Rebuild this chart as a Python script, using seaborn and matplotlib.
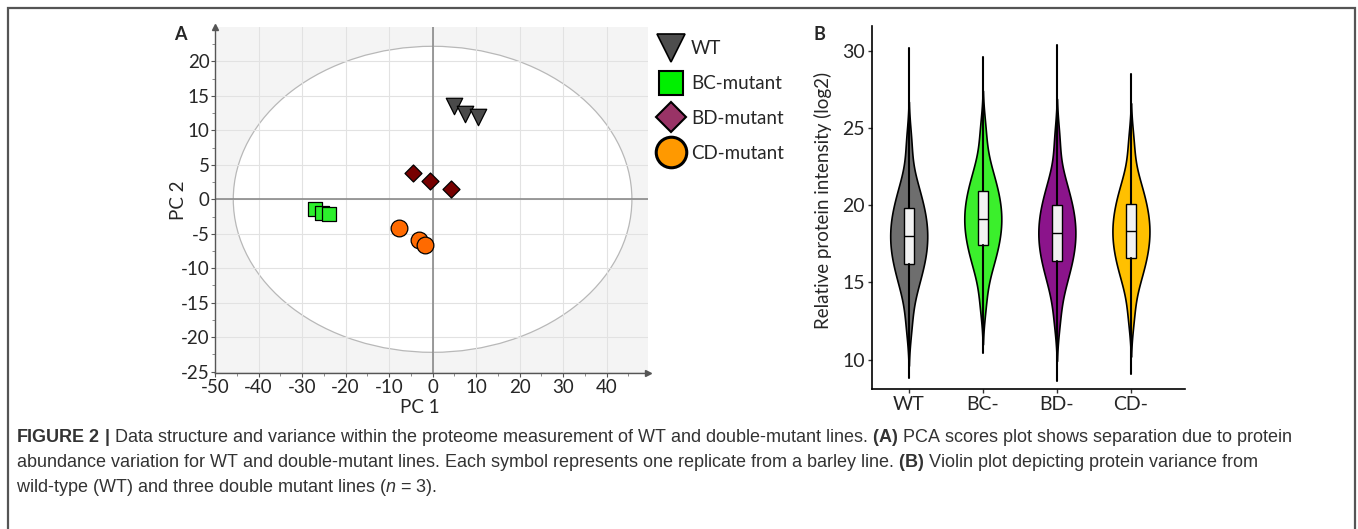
"""
Figure 2 re-draw: PCA scores (A) and protein intensity violins (B)
"""

import numpy as np
import pandas as pd
import matplotlib
matplotlib.use("Agg")
import matplotlib.pyplot as plt
import seaborn as sns
from matplotlib.patches import Ellipse, Rectangle
from matplotlib.lines import Line2D

# =============================================================================
# DATA
# =============================================================================
LINES = ["WT", "BC-mutant", "BD-mutant", "CD-mutant"]

# PCA scores, three replicates per line
pc1_wt = [5.0, 7.5, 10.5]
pc2_wt = [13.5, 12.4, 11.9]
pc1_bc = [-27.1, -25.5, -23.9]
pc2_bc = [-1.4, -2.0, -2.2]
pc1_bd = [-4.6, -0.7, 4.2]
pc2_bd = [3.8, 2.6, 1.5]
pc1_cd = [-7.8, -3.2, -1.7]
pc2_cd = [-4.2, -5.9, -6.6]

# violin panel: estimated quantiles of log2 protein intensity (5% steps)
VIOLIN_LABELS = ["WT", "BC-", "BD-", "CD-"]
q_wt = [12.3, 14.2, 14.9, 15.5, 16.0, 16.4, 16.8, 17.1, 17.5, 17.8,
        18.2, 18.5, 18.9, 19.2, 19.6, 20.0, 20.5, 21.1, 21.8, 24.0]
q_bc = [13.6, 15.4, 16.1, 16.7, 17.1, 17.5, 17.9, 18.3, 18.6, 18.9,
        19.3, 19.6, 19.9, 20.3, 20.7, 21.1, 21.5, 22.1, 22.9, 24.8]
q_bd = [12.6, 14.4, 15.1, 15.7, 16.2, 16.6, 17.0, 17.3, 17.7, 18.0,
        18.4, 18.7, 19.1, 19.4, 19.8, 20.2, 20.7, 21.3, 22.0, 24.2]
q_cd = [12.8, 14.6, 15.3, 15.9, 16.3, 16.7, 17.1, 17.5, 17.8, 18.1,
        18.5, 18.8, 19.1, 19.5, 19.9, 20.3, 20.7, 21.3, 22.0, 24.0]

# box summary
box_min = [8.8, 10.4, 8.6, 9.1]
box_q1 = [16.2, 17.4, 16.4, 16.6]
box_med = [18.0, 19.1, 18.2, 18.3]
box_q3 = [19.8, 20.9, 20.0, 20.1]
box_max = [30.2, 29.6, 30.4, 28.5]

# =============================================================================
# STYLE
# =============================================================================
sns.set_style("white")
plt.rcParams["font.family"] = ["Lato", "DejaVu Sans"]
plt.rcParams["axes.unicode_minus"] = False
plt.rcParams["mathtext.fontset"] = "custom"
plt.rcParams["mathtext.rm"] = "Liberation Sans"
plt.rcParams["mathtext.bf"] = "Liberation Sans:bold"
plt.rcParams["mathtext.it"] = "Liberation Sans:italic"

W, H = 1358, 529
fig = plt.figure(figsize=(W / 100, H / 100), dpi=100)


def fx(px):
    return px / W


def fy(py):
    return 1 - py / H


# =============================================================================
# PANEL A: PCA
# =============================================================================
axA = fig.add_axes([fx(215), fy(373), fx(648) - fx(215), fy(27) - fy(373)])
axA.set_facecolor("#f4f4f4")
axA.add_patch(Ellipse((0, 0), 91.6, 44.4, facecolor="white",
                      edgecolor="#b8b8b8", lw=0.9, zorder=0.2))
axA.set_axisbelow(True)
axA.grid(True, color="#e2e2e2", lw=0.8)
axA.axvline(0, color="#8a8a8a", lw=1.2, zorder=1)
axA.axhline(0, color="#8a8a8a", lw=1.2, zorder=1)

pca = pd.DataFrame({
    "PC1": pc1_wt + pc1_bc + pc1_bd + pc1_cd,
    "PC2": pc2_wt + pc2_bc + pc2_bd + pc2_cd,
    "line": [l for l in LINES for _ in range(3)],
})
plot_colors = {"WT": "#4a4a4a", "BC-mutant": "#2cf02c",
               "BD-mutant": "#760000", "CD-mutant": "#ff6a00"}
plot_markers = {"WT": "v", "BC-mutant": "s", "BD-mutant": "D", "CD-mutant": "o"}
plot_sizes = {"WT": 140, "BC-mutant": 115, "BD-mutant": 75, "CD-mutant": 145}
for line in LINES:
    sub = pca[pca["line"] == line]
    sns.scatterplot(data=sub, x="PC1", y="PC2", marker=plot_markers[line],
                    color=plot_colors[line], s=plot_sizes[line],
                    edgecolor="black", linewidth=0.9, ax=axA, zorder=3,
                    legend=False)

axA.set_xlim(-50, 49.5)
axA.set_ylim(-25.2, 25)
axA.set_xticks(np.arange(-50, 41, 10))
axA.set_yticks(np.arange(-25, 21, 5))
axA.set_xticks(np.arange(-45, 49, 5), minor=True)
axA.set_yticks(np.arange(-22.5, 25, 2.5), minor=True)
axA.tick_params(axis="both", which="major", direction="out", length=3,
                color="#555555", labelsize=13.5, pad=1, bottom=True, left=True)
axA.tick_params(axis="both", which="minor", direction="out", length=2,
                color="#777777", bottom=True, left=True)
axA.grid(False, which="minor")
for side in ["top", "right"]:
    axA.spines[side].set_visible(False)
for side in ["left", "bottom"]:
    axA.spines[side].set_color("#555555")
    axA.spines[side].set_linewidth(1.0)
axA.plot([0], [1.0], marker="^", color="#555555", ms=5,
         transform=axA.transAxes, clip_on=False)
axA.plot([1.0], [0], marker=">", color="#555555", ms=5,
         transform=axA.transAxes, clip_on=False)
axA.set_xlabel("PC 1", fontsize=13.5)
axA.set_ylabel("PC 2", fontsize=13.5)
axA.xaxis.set_label_coords(0.473, -0.075)
axA.yaxis.set_label_coords(-0.065, 0.5)

# legend
leg_colors = ["#4d4d4d", "#00f000", "#993366", "#ff9900"]
leg_markers = ["v", "s", "D", "o"]
leg_sizes = [20, 17, 15, 22]
leg_edge = [1.2, 1.5, 1.5, 2.2]
handles = [Line2D([], [], ls="", marker=m, ms=s, mfc=c, mec="black", mew=e)
           for m, s, c, e in zip(leg_markers, leg_sizes, leg_colors, leg_edge)]
fig.legend(handles, LINES, loc="upper left", bbox_to_anchor=(fx(648), fy(31)),
           frameon=False, fontsize=13.5, labelspacing=0.95, handlelength=1.4,
           handletextpad=0.4, borderpad=0)

# =============================================================================
# PANEL B: violins
# =============================================================================
axB = fig.add_axes([fx(871.7), fy(389), fx(1185) - fx(871.7), fy(26) - fy(389)])
vio = pd.DataFrame({
    "line": [l for l in VIOLIN_LABELS for _ in range(len(q_wt))],
    "value": q_wt + q_bc + q_bd + q_cd,
})
vio_colors = ["#6e6e6e", "#3bef2c", "#8b148b", "#ffc000"]
sns.violinplot(data=vio, x="line", y="value", hue="line",
               palette=vio_colors, inner=None, cut=2.2, bw_adjust=0.8,
               density_norm="width", width=0.5, linewidth=1.2,
               linecolor="black", saturation=1, legend=False, ax=axB)

stats = [dict(whislo=lo, q1=a, med=m, q3=b, whishi=hi)
         for lo, a, m, b, hi in zip(box_min, box_q1, box_med, box_q3, box_max)]
axB.bxp(stats, positions=range(4), widths=0.13, patch_artist=True,
        showfliers=False, showcaps=False,
        boxprops=dict(facecolor="#f2f2f2", edgecolor="black", lw=1.0),
        medianprops=dict(color="black", lw=1.0),
        whiskerprops=dict(color="black", lw=1.5))

axB.set_xlim(-0.5, 3.73)
axB.set_ylim(8.1, 31.6)
axB.set_yticks([10, 15, 20, 25, 30])
axB.set_xticks(range(4))
axB.set_xticklabels(VIOLIN_LABELS)
axB.tick_params(axis="both", direction="out", length=3, width=1,
                color="#333333", labelsize=14, pad=2, bottom=True, left=True)
for side in ["top", "right"]:
    axB.spines[side].set_visible(False)
for side in ["left", "bottom"]:
    axB.spines[side].set_color("black")
    axB.spines[side].set_linewidth(1.2)
axB.set_xlabel("")
axB.set_ylabel("Relative protein intensity (log2)", fontsize=13.5)
axB.yaxis.set_label_coords(-0.127, 0.52)

# panel letters
fig.text(fx(180), fy(34), "A", fontsize=13, fontweight="bold", ha="center", va="center")
fig.text(fx(819), fy(34), "B", fontsize=13, fontweight="bold", ha="center", va="center")

# =============================================================================
# CAPTION + FRAME
# =============================================================================
fig.patches.append(Rectangle((fx(8), fy(540)), fx(1355) - fx(8), fy(8) - fy(540),
                             transform=fig.transFigure, fill=False,
                             edgecolor="#555555", lw=1.6))
caption = [
    r"$\mathbf{FIGURE\ 2\ |}$ Data structure and variance within the proteome measurement "
    r"of WT and double-mutant lines. $\mathbf{(A)}$ PCA scores plot shows separation due to protein",
    r"abundance variation for WT and double-mutant lines. Each symbol represents one replicate "
    r"from a barley line. $\mathbf{(B)}$ Violin plot depicting protein variance from",
    r"wild-type (WT) and three double mutant lines ($\mathit{n}$ = 3).",
]
for i, line in enumerate(caption):
    fig.text(fx(16), fy(438 + 24.5 * i), line, fontsize=12.95, color="#333333",
             family="Liberation Sans", ha="left", va="center")

fig.savefig("out.png", dpi=100)
plt.close(fig)
